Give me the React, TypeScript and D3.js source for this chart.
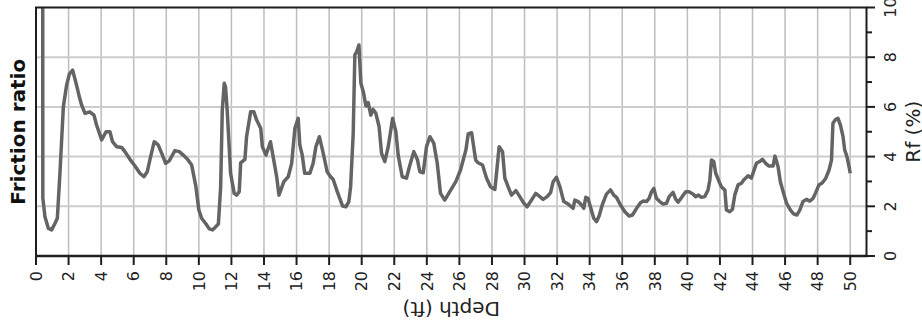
import React from "react";
import * as d3 from "d3";

const depth = [0.41, 0.42, 0.55, 0.76, 0.96, 1.17, 1.31, 1.47, 1.68, 1.88, 2.05, 2.25, 2.46, 2.66, 2.8, 3.01, 3.3, 3.56, 3.72, 4.03, 4.3, 4.54, 4.7, 4.95, 5.26, 5.46, 5.77, 6.08, 6.38, 6.63, 6.83, 7.0, 7.26, 7.5, 7.72, 7.96, 8.18, 8.53, 8.8, 9.04, 9.29, 9.56, 9.82, 10.0, 10.17, 10.44, 10.64, 10.85, 11.2, 11.34, 11.44, 11.56, 11.64, 11.74, 11.95, 12.17, 12.32, 12.48, 12.57, 12.83, 12.93, 13.18, 13.38, 13.55, 13.8, 13.9, 14.12, 14.4, 14.6, 14.78, 14.92, 15.22, 15.49, 15.7, 15.9, 16.1, 16.2, 16.35, 16.5, 16.82, 17.02, 17.19, 17.4, 17.64, 17.88, 18.09, 18.25, 18.5, 18.83, 19.03, 19.21, 19.32, 19.48, 19.58, 19.69, 19.83, 19.95, 20.1, 20.26, 20.4, 20.56, 20.7, 20.87, 21.07, 21.22, 21.42, 21.63, 21.9, 22.1, 22.24, 22.49, 22.75, 22.96, 23.2, 23.43, 23.57, 23.78, 23.98, 24.19, 24.43, 24.64, 24.84, 25.1, 25.41, 25.78, 26.07, 26.4, 26.54, 26.75, 27.0, 27.15, 27.42, 27.67, 27.91, 28.18, 28.32, 28.44, 28.65, 28.79, 28.99, 29.2, 29.47, 29.71, 29.96, 30.16, 30.37, 30.69, 30.94, 31.14, 31.39, 31.6, 31.76, 31.96, 32.17, 32.41, 32.68, 32.98, 33.09, 33.29, 33.5, 33.64, 33.76, 33.9, 34.07, 34.25, 34.42, 34.58, 34.79, 35.03, 35.28, 35.48, 35.65, 35.89, 36.16, 36.42, 36.63, 36.88, 37.12, 37.28, 37.49, 37.65, 37.8, 37.94, 38.1, 38.3, 38.51, 38.72, 38.88, 39.12, 39.29, 39.43, 39.64, 39.9, 40.1, 40.35, 40.51, 40.68, 40.86, 41.07, 41.27, 41.38, 41.48, 41.62, 41.74, 41.95, 42.09, 42.3, 42.4, 42.6, 42.77, 42.91, 43.11, 43.32, 43.46, 43.73, 43.93, 44.03, 44.24, 44.44, 44.61, 44.81, 45.01, 45.26, 45.38, 45.57, 45.71, 45.88, 46.08, 46.33, 46.53, 46.73, 46.9, 47.1, 47.31, 47.51, 47.72, 47.88, 48.08, 48.29, 48.5, 48.7, 48.85, 48.94, 49.11, 49.25, 49.4, 49.56, 49.66, 49.8, 49.93, 50.0];

const rf = [14, 2.33, 1.58, 1.11, 1.05, 1.32, 1.52, 3.33, 6.01, 6.88, 7.32, 7.48, 6.95, 6.41, 6.08, 5.74, 5.8, 5.67, 5.27, 4.67, 5.0, 5.0, 4.6, 4.4, 4.37, 4.2, 3.89, 3.62, 3.33, 3.19, 3.39, 3.89, 4.6, 4.47, 4.13, 3.73, 3.83, 4.24, 4.2, 4.06, 3.9, 3.66, 2.79, 1.85, 1.52, 1.29, 1.09, 1.05, 1.29, 2.79, 5.88, 6.95, 6.8, 5.88, 3.33, 2.52, 2.45, 2.59, 3.75, 3.89, 4.8, 5.8, 5.8, 5.47, 5.14, 4.4, 4.06, 4.6, 3.86, 3.19, 2.45, 2.99, 3.19, 3.73, 5.14, 5.54, 4.47, 4.06, 3.33, 3.33, 3.73, 4.4, 4.8, 4.13, 3.39, 3.19, 3.08, 2.59, 2.01, 1.98, 2.19, 2.79, 4.94, 8.09, 8.22, 8.49, 6.95, 6.61, 6.04, 6.17, 5.67, 5.9, 5.74, 5.2, 4.13, 3.8, 4.4, 5.54, 5.0, 4.06, 3.19, 3.13, 3.66, 4.2, 3.86, 3.39, 3.35, 4.4, 4.8, 4.53, 3.73, 2.52, 2.25, 2.59, 2.99, 3.46, 4.27, 4.91, 4.96, 3.86, 3.75, 3.66, 3.13, 2.79, 2.68, 3.59, 4.4, 4.2, 3.13, 2.79, 2.45, 2.63, 2.39, 2.12, 1.98, 2.19, 2.52, 2.39, 2.28, 2.39, 2.55, 2.99, 3.17, 2.79, 2.19, 2.09, 1.92, 2.25, 2.19, 2.05, 1.92, 2.36, 2.32, 1.92, 1.52, 1.38, 1.61, 2.09, 2.49, 2.66, 2.45, 2.36, 2.05, 1.78, 1.61, 1.65, 1.92, 2.14, 2.21, 2.19, 2.32, 2.59, 2.72, 2.32, 2.19, 2.09, 2.12, 2.39, 2.56, 2.28, 2.17, 2.35, 2.59, 2.59, 2.49, 2.39, 2.45, 2.36, 2.39, 2.66, 3.06, 3.86, 3.8, 3.33, 2.99, 2.79, 2.66, 1.85, 1.78, 1.88, 2.45, 2.86, 2.93, 3.06, 3.23, 3.13, 3.33, 3.73, 3.8, 3.89, 3.73, 3.62, 3.62, 4.02, 3.59, 2.99, 2.59, 2.14, 1.85, 1.69, 1.65, 1.85, 2.19, 2.28, 2.21, 2.32, 2.55, 2.86, 2.95, 3.13, 3.46, 3.86, 5.34, 5.5, 5.54, 5.27, 4.8, 4.27, 4.0, 3.59, 3.33];

const depthTicks = d3.range(0, 51, 2);
const rfTicks = [0, 2, 4, 6, 8, 10];
const rfMinorTicks = [1, 3, 5, 7, 9];
const gridRf = [2, 4, 6, 8];

const W = 922;
const H = 333;
const L = 36, R = 866.5, T = 7.5, B = 256;

export default function App() {
  const x = d3.scaleLinear().domain([0, 51]).range([L, R]);
  const y = d3.scaleLinear().domain([0, 10]).range([B, T]);
  const pts = depth.map((d, i) => [d, rf[i]] as [number, number]);
  const line = d3.line<[number, number]>().x(d => x(d[0])).y(d => y(d[1]));
  const font = "'DejaVu Sans', sans-serif";
  return (
    <svg width={W} height={H} style={{ position: "absolute", left: 0, top: 0, background: "#fff" }}>
      <defs>
        <clipPath id="plotclip">
          <rect x={L} y={T} width={R - L} height={B - T} />
        </clipPath>
      </defs>
      {depthTicks.filter(t => t > 0).map(t => (
        <line key={"gv" + t} x1={x(t)} x2={x(t)} y1={T} y2={B} stroke="#bdbdbd" strokeWidth={1.5} />
      ))}
      {gridRf.map(t => (
        <line key={"gh" + t} x1={L} x2={R} y1={y(t)} y2={y(t)} stroke="#cccccc" strokeWidth={2} />
      ))}
      <path d={line(pts) || ""} fill="none" stroke="#646464" strokeWidth={3.5} strokeLinejoin="round" clipPath="url(#plotclip)" />
      <rect x={L} y={T} width={R - L} height={B - T} fill="none" stroke="#1e1e1e" strokeWidth={2} />
      <line x1={L - 1} x2={R + 1} y1={B} y2={B} stroke="#1e1e1e" strokeWidth={2.5} />
      {depthTicks.map(t => (
        <g key={"xt" + t}>
          <line x1={x(t)} x2={x(t)} y1={B} y2={B + 9} stroke="#1e1e1e" strokeWidth={2} />
          <text transform={`translate(${x(t)},${B + 15}) rotate(-90)`} textAnchor="end" dy="0.36em" fontFamily={font} fontSize={16} fill="#222">{t}</text>
        </g>
      ))}
      {rfTicks.map(t => (
        <g key={"yt" + t}>
          <line x1={R} x2={R + 8.5} y1={y(t)} y2={y(t)} stroke="#1e1e1e" strokeWidth={2} />
          <text transform={`translate(${895.5},${y(t)}) rotate(-90)`} textAnchor="middle" fontFamily={font} fontSize={16} fill="#222">{t}</text>
        </g>
      ))}
      {rfMinorTicks.map(t => (
        <line key={"ym" + t} x1={R} x2={R + 5.5} y1={y(t)} y2={y(t)} stroke="#1e1e1e" strokeWidth={2} />
      ))}
      <text transform={`translate(${(L + R) / 2},${301.5}) rotate(180)`} textAnchor="middle" fontFamily={font} fontSize={20} fill="#222">Depth (ft)</text>
      <text transform={`translate(${920},${(T + B) / 2}) rotate(-90)`} textAnchor="middle" fontFamily={font} fontSize={20} fill="#222">Rf (%)</text>
      <text transform={`translate(${25},${(T + B) / 2}) rotate(-90)`} textAnchor="middle" fontFamily={font} fontSize={20} fontWeight="bold" fill="#111">Friction ratio</text>
    </svg>
  );
}
